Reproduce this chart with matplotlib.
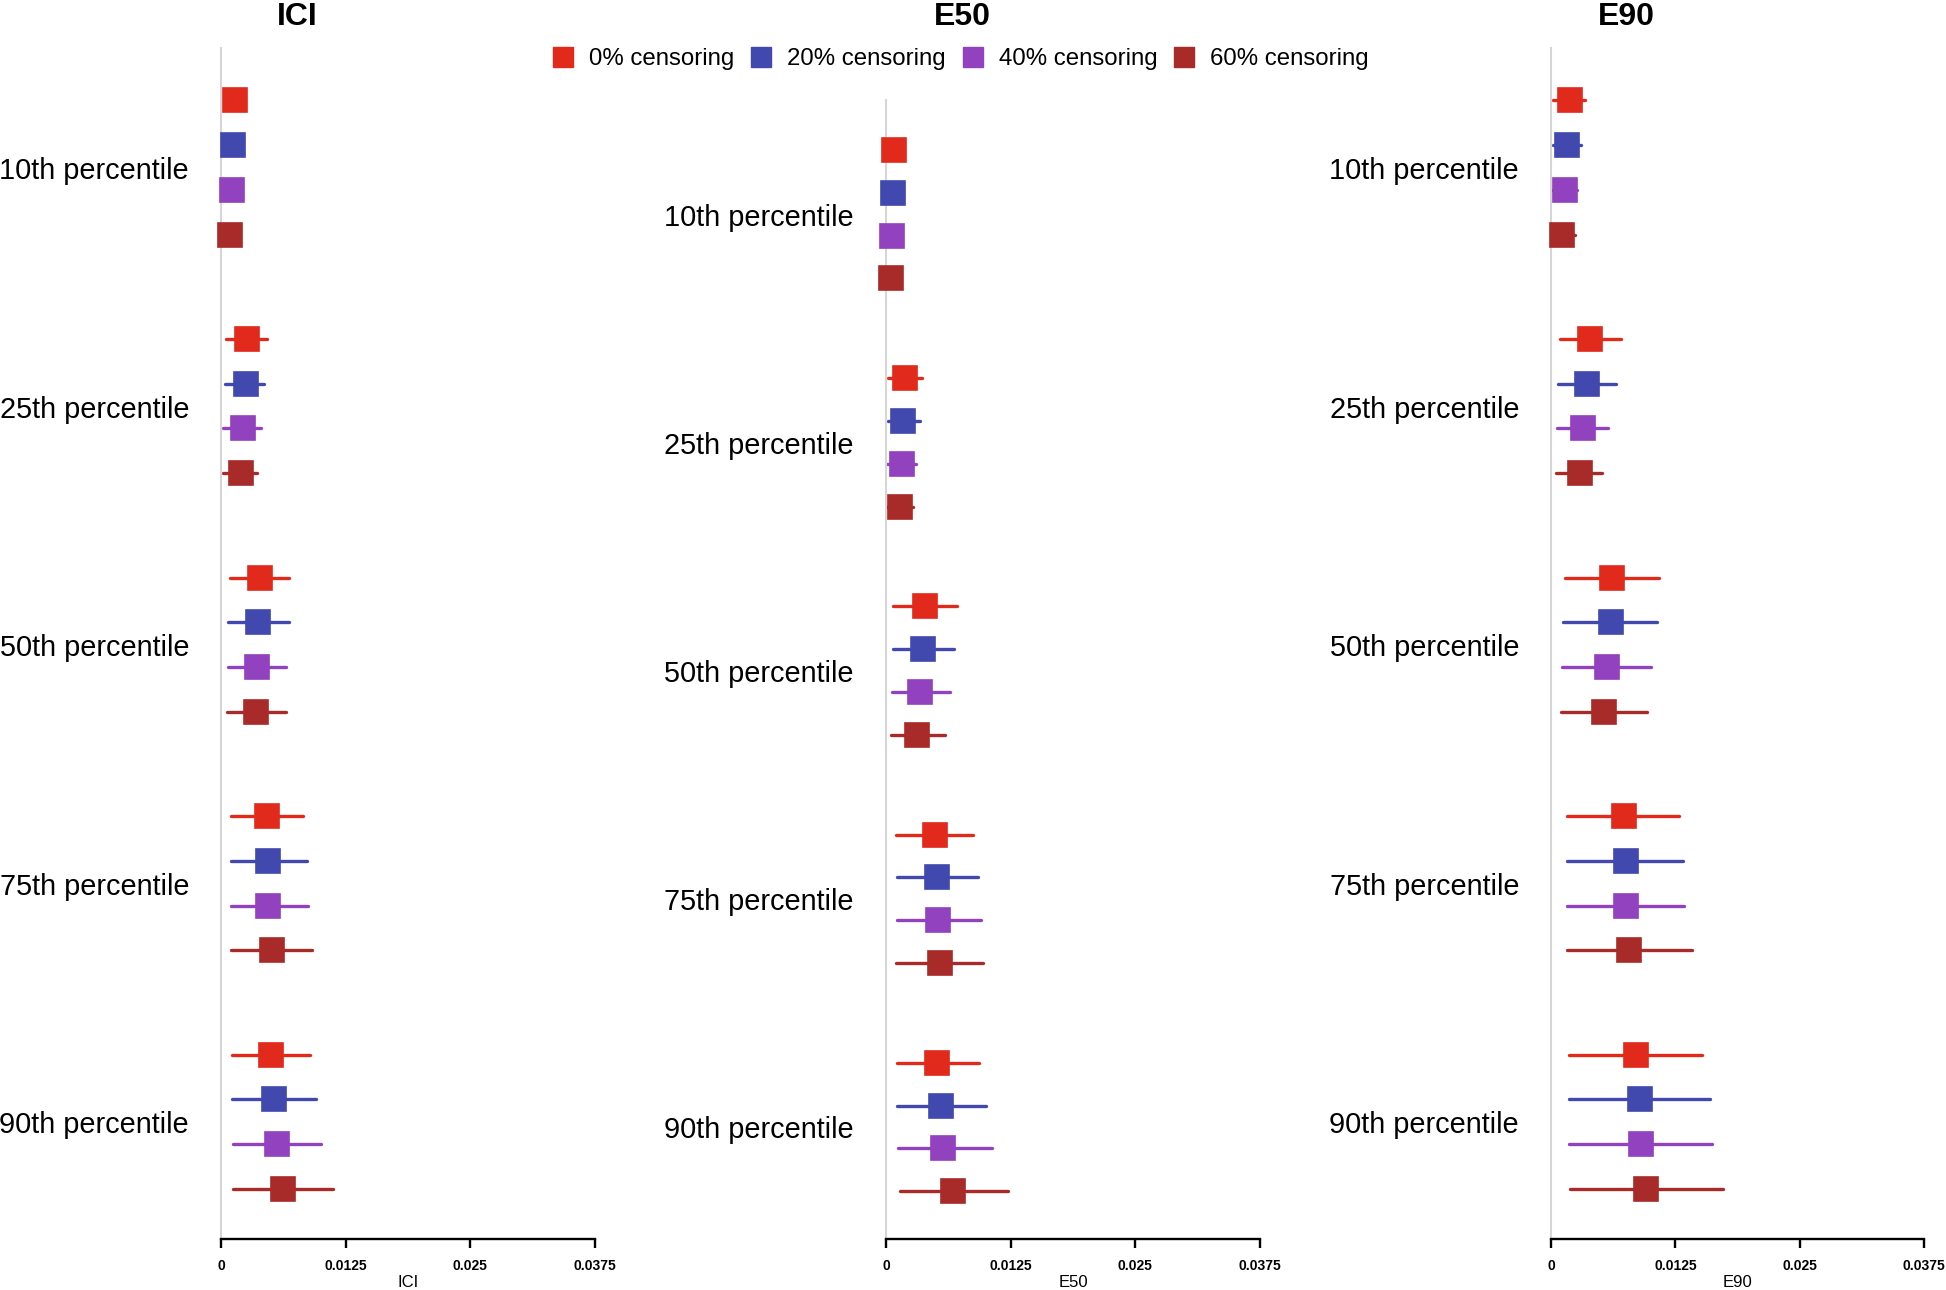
import matplotlib.pyplot as plt
from matplotlib.lines import Line2D
from matplotlib.transforms import blended_transform_factory

plt.rcParams['font.family'] = ['Liberation Sans', 'DejaVu Sans']

percentiles = ['10th percentile', '25th percentile', '50th percentile',
               '75th percentile', '90th percentile']
censoring = ['0% censoring', '20% censoring', '40% censoring', '60% censoring']
colors = ['#e12a1c', '#4149af', '#9241bf', '#a82b2a']
metrics = ['ICI', 'E50', 'E90']

# estimates and interval bounds: rows = percentile, cols = censoring level
ici_est = [[0.0014, 0.0012, 0.0011, 0.0009],
           [0.0026, 0.0025, 0.0022, 0.0020],
           [0.0039, 0.0037, 0.0036, 0.0035],
           [0.0046, 0.0047, 0.0047, 0.0051],
           [0.0050, 0.0053, 0.0056, 0.0062]]
ici_lo = [[0.0008, 0.0007, 0.0006, 0.0005],
          [0.0005, 0.0004, 0.0002, 0.0002],
          [0.0009, 0.0007, 0.0007, 0.0006],
          [0.0010, 0.0010, 0.0010, 0.0010],
          [0.0011, 0.0011, 0.0012, 0.0012]]
ici_hi = [[0.0020, 0.0018, 0.0016, 0.0014],
          [0.0046, 0.0043, 0.0040, 0.0036],
          [0.0068, 0.0068, 0.0065, 0.0065],
          [0.0082, 0.0086, 0.0087, 0.0091],
          [0.0089, 0.0095, 0.0100, 0.0112]]

e50_est = [[0.0008, 0.0007, 0.0006, 0.0005],
           [0.0019, 0.0017, 0.0016, 0.0014],
           [0.0039, 0.0037, 0.0034, 0.0031],
           [0.0049, 0.0051, 0.0052, 0.0054],
           [0.0051, 0.0055, 0.0057, 0.0067]]
e50_lo = [[0.0004, 0.0003, 0.0003, 0.0002],
          [0.0002, 0.0002, 0.0001, 0.0001],
          [0.0007, 0.0007, 0.0006, 0.0005],
          [0.0010, 0.0011, 0.0011, 0.0010],
          [0.0011, 0.0011, 0.0012, 0.0014]]
e50_hi = [[0.0012, 0.0011, 0.0010, 0.0008],
          [0.0036, 0.0034, 0.0030, 0.0027],
          [0.0071, 0.0068, 0.0064, 0.0059],
          [0.0087, 0.0092, 0.0095, 0.0097],
          [0.0093, 0.0100, 0.0106, 0.0122]]

e90_est = [[0.0019, 0.0016, 0.0014, 0.0011],
           [0.0039, 0.0036, 0.0032, 0.0029],
           [0.0061, 0.0060, 0.0056, 0.0053],
           [0.0073, 0.0075, 0.0075, 0.0078],
           [0.0085, 0.0089, 0.0090, 0.0096]]
e90_lo = [[0.0002, 0.0002, 0.0001, 0.0000],
          [0.0009, 0.0007, 0.0006, 0.0005],
          [0.0014, 0.0012, 0.0011, 0.0010],
          [0.0016, 0.0016, 0.0016, 0.0016],
          [0.0018, 0.0018, 0.0018, 0.0019]]
e90_hi = [[0.0034, 0.0030, 0.0026, 0.0024],
          [0.0070, 0.0065, 0.0057, 0.0051],
          [0.0109, 0.0107, 0.0101, 0.0097],
          [0.0129, 0.0133, 0.0134, 0.0142],
          [0.0152, 0.0160, 0.0162, 0.0173]]

xticks = [0, 0.0125, 0.025, 0.0375]
xticklabels = ['0', '0.0125', '0.025', '0.0375']

panels = [(ici_est, ici_lo, ici_hi), (e50_est, e50_lo, e50_hi), (e90_est, e90_lo, e90_hi)]

W, H = 1946, 1290
fig = plt.figure(figsize=(W / 100, H / 100), dpi=100)

# axes boxes in pixels: left, top, right, bottom
boxes = [(221, 48, 595, 1239), (886, 100, 1260, 1239), (1551, 48, 1924, 1239)]
group_gap = 16 / 3

for m, (name, (est, lo, hi), box) in enumerate(zip(metrics, panels, boxes)):
    l, t, r, b = box
    ax = fig.add_axes([l / W, 1 - b / H, (r - l) / W, (b - t) / H])
    for g in range(len(percentiles)):
        for k in range(len(censoring)):
            y = g * group_gap + k
            ax.plot([lo[g][k], hi[g][k]], [y, y], color=colors[k], lw=2.4,
                    solid_capstyle='round', clip_on=False, zorder=2)
            ax.plot(est[g][k], y, marker='s', ms=17.5, color=colors[k], mec=colors[k],
                    mew=1.2, clip_on=False, zorder=3)
    ax.set_xlim(0, 0.0375)
    ax.set_ylim(group_gap * 4 + 3 + 1.12, -1.17)
    ax.set_xticks(xticks)
    ax.set_xticklabels(xticklabels, fontsize=10, fontweight='bold')
    ax.set_yticks([])
    ax.tick_params(axis='x', direction='out', length=6.5, width=1.7, pad=8)
    ax.spines['top'].set_visible(False)
    ax.spines['right'].set_visible(False)
    ax.spines['bottom'].set_linewidth(1.7)
    ax.spines['left'].set_color('#d6d6d6')
    ax.spines['left'].set_linewidth(1.5)
    ax.set_xlabel(name, fontsize=12, labelpad=1)

    trans = blended_transform_factory(fig.transFigure, ax.transData)
    for g, lab in enumerate(percentiles):
        ax.text((l - 32) / W, g * group_gap + 1.58, lab, transform=trans,
                ha='right', va='center', fontsize=20.8)

    # title centred over label area + axis
    lab_left = l - 33 - 189
    fig.text((lab_left + r) / 2 / W, 1 - 25 / H, name, ha='center', va='baseline',
             fontsize=23, fontweight='bold')

handles = [Line2D([], [], marker='s', ls='none', color=c, ms=13.7) for c in colors]
fig.legend(handles, censoring, loc='center', bbox_to_anchor=(961 / W, 1 - 59.5 / H),
           ncol=4, frameon=False, fontsize=17.3, handlelength=0.8, handletextpad=0.68,
           columnspacing=0.72, borderpad=0, borderaxespad=0)

fig.savefig('out.png', dpi=100)
